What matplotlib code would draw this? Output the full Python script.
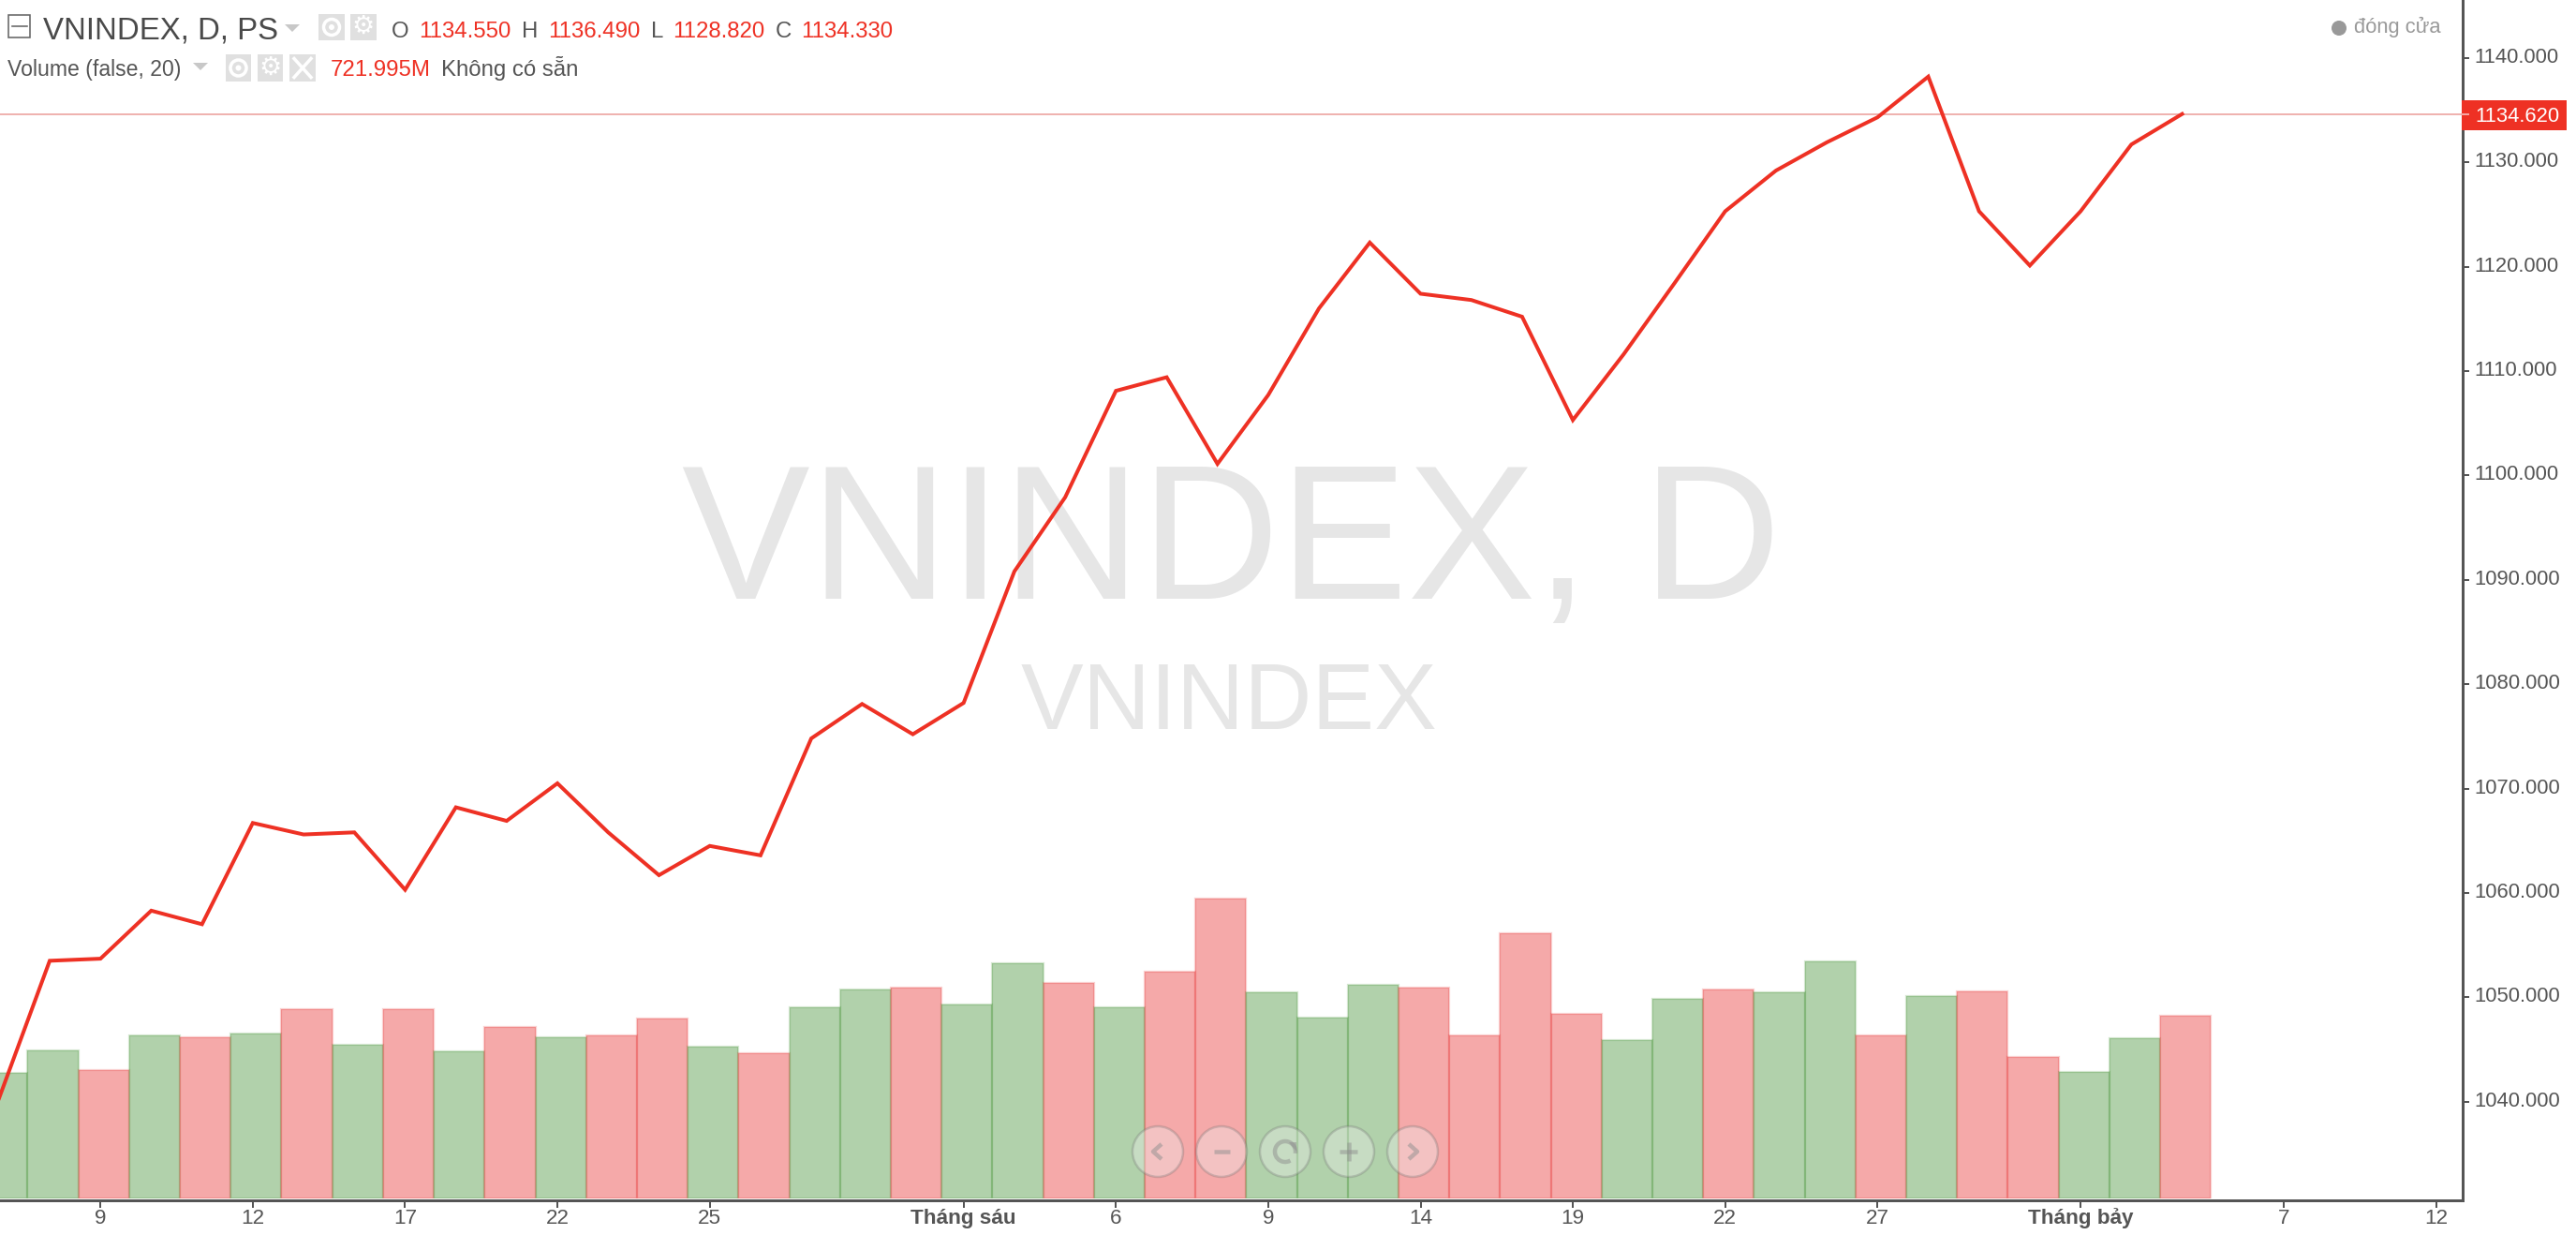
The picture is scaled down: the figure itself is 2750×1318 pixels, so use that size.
import matplotlib
matplotlib.use("Agg")
import matplotlib.pyplot as plt
from matplotlib.colors import to_rgba
from matplotlib.patches import Arc, Circle, Polygon, Rectangle
from matplotlib.transforms import ScaledTranslation

W, H = 2750, 1318
DPI = 100
plt.rcParams['font.family'] = ['Liberation Sans', 'DejaVu Sans']

RED = '#ee3124'
INK = '#555555'

close_values = [1040.3, 1053.5, 1053.7, 1058.3, 1057.0, 1066.7, 1065.6, 1065.8, 1060.3, 1068.2,
                1066.9, 1070.5, 1065.8, 1061.7, 1064.5, 1063.6, 1074.8, 1078.1, 1075.2, 1078.2,
                1090.8, 1097.9, 1108.1, 1109.4, 1101.1, 1107.7, 1116.0, 1122.3, 1117.4, 1116.8,
                1115.2, 1105.3, 1111.6, 1118.4, 1125.3, 1129.2, 1131.9, 1134.3, 1138.2, 1125.3,
                1120.1, 1125.3, 1131.7, 1134.62]
volume_m = [494, 585, 507, 644, 637, 650, 748, 605, 748, 579,
            676, 637, 644, 709, 598, 572, 754, 826, 832, 767,
            930, 852, 754, 897, 1183, 813, 715, 845, 832, 644,
            1047, 728, 624, 787, 826, 813, 936, 644, 800, 819,
            559, 500, 631, 722]
volume_dir = list("ggrgrgrgrgrgrrgrggrggrgrrgggrrrrggrggrgrrggr")
x_tick_pos = [2, 5, 8, 11, 14, 19, 22, 25, 28, 31, 34, 37, 41, 45, 48]
x_tick_labels = ['9', '12', '17', '22', '25', 'Tháng sáu', '6', '9', '14', '19', '22', '27',
                 'Tháng bảy', '7', '12']
bold_labels = ['Tháng sáu', 'Tháng bảy']
y_ticks = [1040, 1050, 1060, 1070, 1080, 1090, 1100, 1110, 1120, 1130, 1140]
last_price = 1134.62

fig = plt.figure(figsize=(W / DPI, H / DPI), dpi=DPI, facecolor='white')
px = 72 / DPI


def rect(left, top, right, bottom):
    return [left / W, 1 - bottom / H, (right - left) / W, (bottom - top) / H]


AX_R = 2629
x_lim = (-0.044, 48.46)
line_shift = 0.065

# watermark layer in pixel coordinates
bg = fig.add_axes([0, 0, 1, 1], zorder=0)
bg.set_xlim(0, W); bg.set_ylim(H, 0); bg.axis('off')
bg.text(1315, 586, 'VNINDEX, D', fontsize=205 * px, color='#e6e6e6', ha='center', va='center')
bg.text(1312, 752, 'VNINDEX', fontsize=100 * px, color='#e6e6e6', ha='center', va='center')

# volume
av = fig.add_axes(rect(0, 0, AX_R, 1278.5), zorder=1)
av.patch.set_alpha(0)
av.set_xlim(*x_lim); av.set_ylim(0, 4740); av.axis('off')
C = {'r': '#e62a2a', 'g': '#3c8e2d'}
for i, (v, d) in enumerate(zip(volume_m, volume_dir)):
    av.bar(i, v, width=1.0, facecolor=to_rgba(C[d], 0.4),
           edgecolor=to_rgba(C[d], 0.22), linewidth=2.2 * px)

# price
ax = fig.add_axes(rect(0, 0, AX_R, 1281), zorder=2)
ax.patch.set_alpha(0)
ax.set_xlim(x_lim[0] + line_shift, x_lim[1] + line_shift)
ax.set_ylim(1030.55, 1145.54)
ax.plot(range(len(close_values)), close_values, color=RED, lw=4 * px, solid_joinstyle='miter', zorder=3)
ax.axhline(last_price, color='#eb9a96', lw=1.5 * px, zorder=2)
for s in ('top', 'left'):
    ax.spines[s].set_visible(False)
for s in ('bottom', 'right'):
    ax.spines[s].set_color(INK); ax.spines[s].set_linewidth(3 * px)
ax.yaxis.tick_right()
ax.set_yticks(y_ticks, [f'{t:.3f}' for t in y_ticks])
ax.set_xticks(x_tick_pos, x_tick_labels)
ax.tick_params(axis='y', length=7 * px, width=2 * px, color=INK, labelcolor=INK, labelsize=22 * px, pad=5 * px)
ax.tick_params(axis='x', length=8 * px, width=2 * px, color=INK, labelcolor=INK, labelsize=22.5 * px, pad=17 * px)
up = ScaledTranslation(0, 3 / DPI, fig.dpi_scale_trans)
for t in ax.get_yticklabels():
    t.set_transform(t.get_transform() + up)
for t in ax.get_xticklabels():
    t.set_verticalalignment('baseline')
    if t.get_text() in bold_labels:
        t.set_fontweight('bold')

# overlay
ui = fig.add_axes([0, 0, 1, 1], zorder=3)
ui.set_xlim(0, W); ui.set_ylim(H, 0); ui.axis('off')
ui.patch.set_alpha(0)


def T(x, y, s, size, color=INK, **kw):
    ui.text(x, y, s, fontsize=size * px, color=color, va='baseline', **kw)


# header
ui.add_patch(Rectangle((9.5, 15.5), 23, 24, fc='white', ec='#666666', lw=1.6 * px))
ui.plot([13, 29], [27.5, 27.5], color='#666666', lw=1.6 * px)
T(46, 41, 'VNINDEX, D, PS', 33, color='#4a4a4a')
ui.add_patch(Polygon([(304, 26), (320, 26), (312, 34)], fc='#c8c8c8', ec='none'))
T(418, 40, 'O', 24); T(447, 40, '1134.550', 24, RED)
T(557, 40, 'H', 24); T(585, 40, '1136.490', 24, RED)
T(695, 40, 'L', 24); T(718, 40, '1128.820', 24, RED)
T(828, 40, 'C', 24); T(855, 40, '1134.330', 24, RED)
T(8, 81, 'Volume (false, 20)', 23)
ui.add_patch(Polygon([(206, 67), (222, 67), (214, 75)], fc='#c8c8c8', ec='none'))
T(353, 81, '721.995M', 24, RED)
T(471, 81, 'Không có sẵn', 24)


def box(l, t, r, b, kind):
    ui.add_patch(Rectangle((l, t), r - l, b - t, fc='#e0e0e0', ec='none'))
    cx, cy = (l + r) / 2, (t + b) / 2
    if kind == 'eye':
        ui.add_patch(Circle((cx, cy), 8.5, fc='none', ec='white', lw=3.5 * px))
        ui.add_patch(Circle((cx, cy), 3, fc='white', ec='none'))
    elif kind == 'gear':
        ui.text(cx, cy, '\u2699', fontsize=27 * px, color='white', ha='center', va='center',
                family=['DejaVu Sans'], fontweight='bold')
    else:
        ui.plot([cx - 9, cx + 9], [cy - 10, cy + 10], color='white', lw=3.5 * px)
        ui.plot([cx - 9, cx + 9], [cy + 10, cy - 10], color='white', lw=3.5 * px)


box(340, 15, 368, 43, 'eye'); box(374, 15, 402, 43, 'gear')
box(241, 58, 268, 87, 'eye'); box(275, 58, 302, 87, 'gear'); box(309, 58, 337, 87, 'x')

# status
ui.add_patch(Circle((2497, 30), 8, fc='#999999', ec='none'))
T(2513, 35, 'đóng cửa', 22, color='#999999')

# last price label
ui.add_patch(Rectangle((2628, 107), 112, 32, fc=RED, ec='none'))
ui.plot([2628, 2635], [122, 122], color='#f4a6a2', lw=2 * px)
T(2642, 129.5, f'{last_price:.3f}', 22, color='white')

# navigation buttons
GR = '#8f8f8f'
for cx in (1236, 1304, 1372, 1440, 1508):
    ui.add_patch(Circle((cx, 1229), 27, fc=(0.95, 0.95, 0.95, 0.35), ec=(0.45, 0.45, 0.45, 0.3), lw=2.5 * px))
kw = dict(color=GR, alpha=0.5, lw=4.5 * px, solid_capstyle='butt')
ui.plot([1240, 1231, 1240], [1221, 1229, 1237], **kw)
ui.plot([1296, 1313], [1229, 1229], **kw)
ui.add_patch(Arc((1372, 1229), 22, 22, theta1=-300, theta2=10, ec=GR, alpha=0.5, lw=4.5 * px))
ui.add_patch(Polygon([(1376, 1219), (1384, 1219), (1384, 1229)], fc=GR, alpha=0.5, ec='none'))
ui.plot([1430, 1449], [1229, 1229], **kw)
ui.plot([1440, 1440], [1219, 1239], **kw)
ui.plot([1504, 1513, 1504], [1221, 1229, 1237], **kw)

fig.savefig('out.png', dpi=DPI, facecolor='white')
